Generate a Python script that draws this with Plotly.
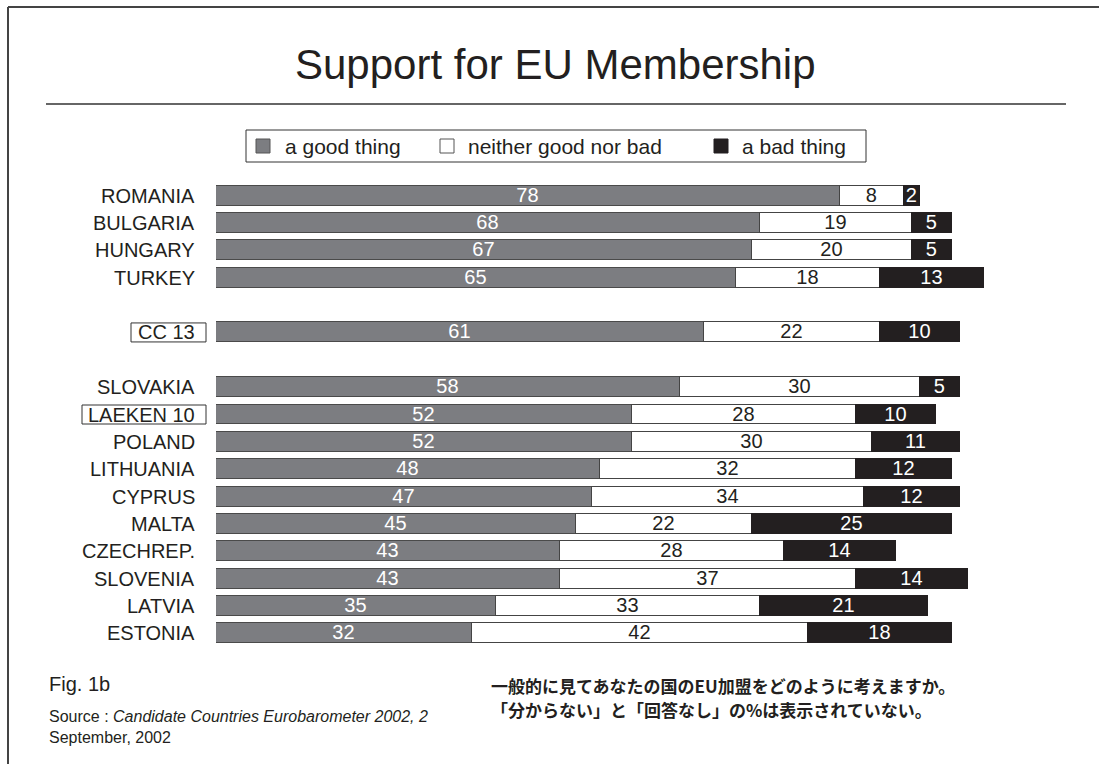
import plotly.graph_objects as go

# ---- data ----
countries = ["ROMANIA", "BULGARIA", "HUNGARY", "TURKEY", "CC 13", "SLOVAKIA",
             "LAEKEN 10", "POLAND", "LITHUANIA", "CYPRUS", "MALTA", "CZECHREP.",
             "SLOVENIA", "LATVIA", "ESTONIA"]
row_pos = [0, 1, 2, 3, 5, 7, 8, 9, 10, 11, 12, 13, 14, 15, 16]
good = [78, 68, 67, 65, 61, 58, 52, 52, 48, 47, 45, 43, 43, 35, 32]
neither = [8, 19, 20, 18, 22, 30, 28, 30, 32, 34, 22, 28, 37, 33, 42]
bad = [2, 5, 5, 13, 10, 5, 10, 11, 12, 12, 25, 14, 14, 21, 18]
boxed = ["CC 13", "LAEKEN 10"]
series_names = ["a good thing", "neither good nor bad", "a bad thing"]
jp_notes = ["一般的に見てあなたの国のEU加盟をどのように考えますか。",
            "「分からない」と「回答なし」の%は表示されていない。"]

# ---- layout geometry (pixels) ----
W, H = 1099, 764
L, R, T, B = 216, 83, 182, 117
PW, PH = W - L - R, H - T - B

def px(x):
    return (x - L) / PW

def py(y):
    return (H - B - y) / PH

FONT = "Liberation Sans, Arial, sans-serif"
GRAY = "#7c7d81"
BLACK = "#231f20"
DARK = "#231f20"

fig = go.Figure()
series = [
    (good, GRAY, "#4a4a4a", "white"),
    (neither, "white", "#444444", DARK),
    (bad, BLACK, BLACK, "white"),
]
for name, (vals, fill, line, tcol) in zip(series_names, series):
    fig.add_trace(go.Bar(
        name=name, y=row_pos, x=vals, orientation="h",
        marker=dict(color=fill, line=dict(color=line, width=1.2)),
        width=0.73,
        text=[str(v) for v in vals], textposition="inside",
        insidetextanchor="middle", textangle=0, constraintext="none",
        textfont=dict(family=FONT, size=20, color=tcol),
        showlegend=False, hoverinfo="skip",
    ))

annotations = []
shapes = []

# country labels
for c, p in zip(countries, row_pos):
    annotations.append(dict(
        x=0, y=p, xref="x", yref="y", text=c, showarrow=False,
        xanchor="right", yanchor="middle", xshift=-19,
        font=dict(family=FONT, size=20, color=DARK)))

# boxes around aggregate labels
box_px = {"CC 13": (131, 206), "LAEKEN 10": (82, 206)}
for c, p in zip(countries, row_pos):
    if c in boxed:
        x0, x1 = box_px[c]
        yc = T + (p + 0.5) * PH / 17
        shapes.append(dict(type="rect", xref="paper", yref="paper",
                           x0=px(x0), x1=px(x1), y0=py(yc - 9.5), y1=py(yc + 9.5),
                           line=dict(color="#333333", width=1)))

# frame lines
shapes.append(dict(type="line", xref="paper", yref="paper",
                   x0=px(8), x1=px(1099), y0=py(7), y1=py(7),
                   line=dict(color="#444444", width=2)))
shapes.append(dict(type="line", xref="paper", yref="paper",
                   x0=px(8), x1=px(8), y0=py(7), y1=py(764),
                   line=dict(color="#444444", width=2)))
# title rule
shapes.append(dict(type="line", xref="paper", yref="paper",
                   x0=px(46), x1=px(1066), y0=py(104), y1=py(104),
                   line=dict(color="#333333", width=1.6)))

# title
annotations.append(dict(
    x=px(555.5), y=py(64), xref="paper", yref="paper",
    text="Support for EU Membership", showarrow=False,
    xanchor="center", yanchor="middle",
    font=dict(family=FONT, size=42, color=DARK)))

# custom legend
shapes.append(dict(type="rect", xref="paper", yref="paper",
                   x0=px(246), x1=px(866), y0=py(130), y1=py(162),
                   line=dict(color="#333333", width=1)))
leg_items = [
    (256, 283, GRAY, "#555555"),
    (440, 466, "white", "#555555"),
    (714, 740, BLACK, BLACK),
]
for name, (sx, tx, fill, line) in zip(series_names, leg_items):
    shapes.append(dict(type="rect", xref="paper", yref="paper",
                       x0=px(sx), x1=px(sx + 14), y0=py(139), y1=py(153),
                       fillcolor=fill, line=dict(color=line, width=1)))
    annotations.append(dict(
        x=px(tx), y=py(146), xref="paper", yref="paper", text=name,
        showarrow=False, xanchor="left", yanchor="middle",
        font=dict(family=FONT, size=21, color=DARK)))

# footnotes
annotations.append(dict(
    x=px(47), y=py(684), xref="paper", yref="paper", text="Fig. 1b",
    showarrow=False, xanchor="left", yanchor="middle",
    font=dict(family=FONT, size=20, color=DARK)))
annotations.append(dict(
    x=px(47), y=py(727), xref="paper", yref="paper",
    text="Source : <i>Candidate Countries Eurobarometer 2002, 2</i><br>September, 2002",
    showarrow=False, xanchor="left", yanchor="middle", align="left",
    font=dict(family=FONT, size=16, color=DARK)))
JP = "Noto Sans CJK JP, sans-serif"
for note, yy in zip(jp_notes, [685, 709]):
    annotations.append(dict(
        x=px(489), y=py(yy), xref="paper", yref="paper",
        text="<b>" + note + "</b>",
        showarrow=False, xanchor="left", yanchor="middle", align="left",
        font=dict(family=JP, size=17, color=DARK)))

fig.update_layout(
    width=W, height=H,
    margin=dict(l=L, r=R, t=T, b=B, pad=0),
    barmode="stack", bargap=0,
    paper_bgcolor="white", plot_bgcolor="white",
    xaxis=dict(range=[0, 100], visible=False, fixedrange=True),
    yaxis=dict(range=[16.5, -0.5], visible=False, fixedrange=True),
    annotations=annotations, shapes=shapes,
    font=dict(family=FONT),
    showlegend=False,
)

fig.write_html("out.html", config={"displayModeBar": False})
